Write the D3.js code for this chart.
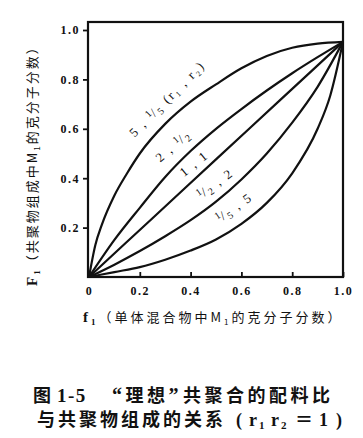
<!DOCTYPE html>
<html>
<head>
<meta charset="utf-8">
<script src="https://cdn.jsdelivr.net/npm/d3@7/dist/d3.min.js"></script>
<style>
body { margin: 0; background: #fff; }
svg { display: block; }
.num { font-family: "Liberation Serif", "DejaVu Serif", serif; font-weight: bold; }
.cjk { font-family: "Noto Sans CJK SC", sans-serif; }
</style>
</head>
<body>
<svg id="chart" width="363" height="438"></svg>
<script>
// curves: [f1, F1] pairs, one list per (r1, r2)
var curve5 = [[0, 0], [0.025, 0.13], [0.05, 0.21], [0.1, 0.33], [0.15, 0.42], [0.2, 0.5], [0.3, 0.62],
              [0.4, 0.71], [0.5, 0.78], [0.6, 0.845], [0.7, 0.895], [0.8, 0.928], [0.9, 0.945], [1, 0.952]];
var curve2 = [[0, 0], [0.1, 0.15], [0.2, 0.28], [0.3, 0.405], [0.4, 0.51], [0.5, 0.6], [0.6, 0.68],
              [0.7, 0.755], [0.8, 0.825], [0.9, 0.89], [1, 0.952]];
var curve1 = [[0, 0], [0.25, 0.238], [0.5, 0.476], [0.75, 0.714], [1, 0.952]];
var curveHalf = [[0, 0], [0.1, 0.05], [0.2, 0.105], [0.3, 0.165], [0.4, 0.23], [0.5, 0.305], [0.6, 0.395],
                 [0.7, 0.5], [0.8, 0.625], [0.9, 0.77], [1, 0.952]];
var curveFifth = [[0, 0], [0.1, 0.02], [0.2, 0.04], [0.3, 0.07], [0.4, 0.107], [0.5, 0.152], [0.6, 0.215],
                  [0.7, 0.3], [0.8, 0.42], [0.9, 0.6], [0.95, 0.735], [1, 0.952]];

var xTicks = [0, 0.2, 0.4, 0.6, 0.8, 1.0];
var yTicks = [0.2, 0.4, 0.6, 0.8, 1.0];

// label text pieces: [text, kind] where kind is "n" normal, "sup"/"sub" for the small fraction digits
var curveLabels = [
    {at: [0.307, 0.722], angle: -45, parts: [["5 , ", "n"], ["1", "sup"], ["/", "n"], ["5", "sub"], [" (r\u2081 , r\u2082)", "n"]]},
    {at: [0.331, 0.532], angle: -41, parts: [["2 , ", "n"], ["1", "sup"], ["/", "n"], ["2", "sub"]]},
    {at: [0.413, 0.46], angle: -39, parts: [["1 , 1", "n"]]},
    {at: [0.496, 0.379], angle: -36, parts: [["1", "sup"], ["/", "n"], ["2", "sub"], [" , 2", "n"]]},
    {at: [0.571, 0.282], angle: -35, parts: [["1", "sup"], ["/", "n"], ["5", "sub"], [" , 5", "n"]]}
];

var svg = d3.select("#chart");
var x = d3.scaleLinear().domain([0, 1]).range([89, 343]);
var y = d3.scaleLinear().domain([0, 1]).range([277, 30]);

// frame
svg.append("rect")
    .attr("x", x(0) - 1).attr("y", 22)
    .attr("width", x(1) - x(0) + 1).attr("height", y(0) - 22)
    .attr("fill", "none").attr("stroke", "#111").attr("stroke-width", 2.2);

var yAxis = svg.append("g")
    .attr("transform", "translate(" + (x(0) - 1) + ",0)")
    .call(d3.axisLeft(y).tickValues(yTicks).tickSize(5).tickPadding(3).tickFormat(d3.format(".1f")));
yAxis.select(".domain").remove();
yAxis.selectAll("line").attr("stroke", "#111").attr("stroke-width", 1.8);
yAxis.selectAll("text").attr("class", "num").style("font-size", "12px")
    .style("letter-spacing", "1.5px").attr("fill", "#111");

var xAxis = svg.append("g")
    .attr("transform", "translate(0," + y(0) + ")")
    .call(d3.axisBottom(x).tickValues(xTicks).tickSizeInner(-5).tickSizeOuter(0).tickPadding(9)
        .tickFormat(function (d) { return d === 0 ? "0" : d3.format(".1f")(d); }));
xAxis.select(".domain").remove();
xAxis.selectAll("line").attr("stroke", "#111").attr("stroke-width", 1.8);
xAxis.selectAll("text").attr("class", "num").style("font-size", "12px")
    .style("letter-spacing", "1.5px").attr("fill", "#111");

var line = d3.line()
    .x(function (d) { return x(d[0]); })
    .y(function (d) { return y(d[1]); })
    .curve(d3.curveMonotoneX);

[curve5, curve2, curve1, curveHalf, curveFifth].forEach(function (c) {
    svg.append("path")
        .attr("d", line(c))
        .attr("fill", "none")
        .attr("stroke", "#111")
        .attr("stroke-width", 2.2);
});

curveLabels.forEach(function (lab) {
    var t = svg.append("text")
        .attr("class", "num")
        .attr("text-anchor", "middle")
        .attr("transform", "translate(" + x(lab.at[0]) + "," + y(lab.at[1]) + ") rotate(" + lab.angle + ")")
        .attr("dy", "0.35em")
        .style("font-size", "13px")
        .style("font-weight", "normal")
        .style("letter-spacing", "2px")
        .attr("fill", "#111");
    lab.parts.forEach(function (p) {
        var s = t.append("tspan").text(p[0]);
        if (p[1] === "sup") s.style("font-size", "10px").style("letter-spacing", "0").attr("baseline-shift", "4");
        if (p[1] === "sub") s.style("font-size", "10px").attr("baseline-shift", "-3");
    });
});

// axis titles
var yTitle = svg.append("text")
    .attr("class", "cjk")
    .attr("transform", "translate(37,286) rotate(-90)")
    .style("font-size", "13px")
    .style("letter-spacing", "2px")
    .attr("fill", "#111");
yTitle.append("tspan").attr("class", "num").style("font-size", "15px").text("F");
yTitle.append("tspan").attr("class", "num").style("font-size", "9px").attr("baseline-shift", "-3").text("1");
yTitle.append("tspan").text("（共聚物组成中M");
yTitle.append("tspan").style("font-size", "8px").attr("baseline-shift", "-3").text("1");
yTitle.append("tspan").text("的克分子分数）");

var xTitle = svg.append("text")
    .attr("class", "cjk")
    .attr("x", 83).attr("y", 322)
    .style("font-size", "13px")
    .style("letter-spacing", "3px")
    .attr("fill", "#111");
xTitle.append("tspan").attr("class", "num").style("font-size", "15px").text("f");
xTitle.append("tspan").attr("class", "num").style("font-size", "9px").attr("baseline-shift", "-3").text("1");
xTitle.append("tspan").text("（单体混合物中M");
xTitle.append("tspan").style("font-size", "8px").attr("baseline-shift", "-3").text("1");
xTitle.append("tspan").text("的克分子分数）");

// caption, two lines
var cap1 = svg.append("text")
    .attr("class", "cjk")
    .attr("y", 402)
    .style("font-size", "18px").style("font-weight", "bold").style("letter-spacing", "3.5px")
    .attr("fill", "#111");
cap1.append("tspan").attr("x", 33).text("图");
cap1.append("tspan").attr("x", 57).attr("class", "num").style("font-size", "19px").style("letter-spacing", "1.5px").text("1-5");
cap1.append("tspan").attr("x", 112).attr("class", "num").style("font-size", "20px").text("“");
cap1.append("tspan").text("理想");
cap1.append("tspan").attr("class", "num").style("font-size", "20px").text("”");
cap1.append("tspan").attr("x", 183).text("共聚合的配料比");

var cap2 = svg.append("text")
    .attr("class", "cjk")
    .attr("y", 426)
    .style("font-size", "18px").style("font-weight", "bold").style("letter-spacing", "3px")
    .attr("fill", "#111");
cap2.append("tspan").attr("x", 37).text("与共聚物组成的关系");
cap2.append("tspan").attr("x", 236).attr("class", "num").style("letter-spacing", "0").text("(");
cap2.append("tspan").attr("x", 249).attr("class", "num").style("letter-spacing", "0").text("r");
cap2.append("tspan").attr("x", 259).attr("class", "num").style("font-size", "11px").attr("baseline-shift", "-3").text("1");
cap2.append("tspan").attr("x", 271).attr("class", "num").style("letter-spacing", "0").text("r");
cap2.append("tspan").attr("x", 281).attr("class", "num").style("font-size", "11px").attr("baseline-shift", "-3").text("2");
cap2.append("tspan").attr("x", 295).style("letter-spacing", "0").text("＝");
cap2.append("tspan").attr("x", 319).attr("class", "num").style("letter-spacing", "0").text("1");
cap2.append("tspan").attr("x", 336).attr("class", "num").style("letter-spacing", "0").text(")");
</script>
</body>
</html>
